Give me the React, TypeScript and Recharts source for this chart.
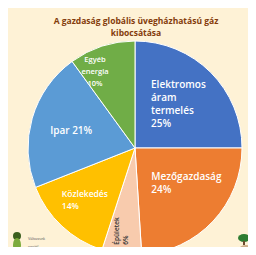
import React from "react";
import { PieChart, Pie, Cell } from "recharts";

const categories = ["Elektromos áram termelés", "Mezőgazdaság", "Épületek", "Közlekedés", "Ipar", "Egyéb energia"];
const values = [25, 24, 6, 14, 21, 10];
const labelLines: string[][] = [
  ["Elektromos", "áram", "termelés", "25%"],
  ["Mezőgazdaság", "24%"],
  ["Épületek", "6%"],
  ["Közlekedés", "14%"],
  ["Ipar 21%"],
  ["Egyéb", "energia", "10%"],
];
const colors = ["#4472C4", "#ED7D31", "#F8CBAD", "#FFC000", "#5B9BD5", "#70AD47"];

const data = categories.map((name, i) => ({ name, value: values[i], lines: labelLines[i] }));

// label layout: radius from centre, angle offset from slice midAngle, anchor, font size, line height
const labelLayout = [
  { r: 62, dA: 30, anchor: "start", fs: 10, lh: 13, rot: false, fill: "#ffffff", weight: 600 },
  { r: 36, dA: -20, anchor: "start", fs: 10, lh: 13, rot: false, fill: "#ffffff", weight: 600 },
  { r: 98, dA: -2.2, anchor: "start", fs: 6.5, lh: 9, rot: true, fill: "#333333", weight: 600 },
  { r: 88, dA: -13, anchor: "start", fs: 8.5, lh: 12, rot: false, fill: "#ffffff", weight: 600 },
  { r: 86, dA: 6.8, anchor: "start", fs: 10, lh: 13, rot: false, fill: "#ffffff", weight: 600 },
  { r: 95, dA: 6.9, anchor: "middle", fs: 7.5, lh: 12, rot: false, fill: "#ffffff", weight: 600 },
];

const RAD = Math.PI / 180;

const renderLabel = (props: any) => {
  const { cx, cy, midAngle, index } = props;
  const L = labelLayout[index];
  const a = (midAngle + L.dA) * RAD;
  const x = cx + L.r * Math.cos(a);
  const y = cy - L.r * Math.sin(a);
  const lines = data[index].lines;
  if (L.rot) {
    return (
      <g transform={`translate(${x},${y}) rotate(-90)`}>
        {lines.map((t, k) => (
          <text key={k} x={0} y={k * L.lh} textAnchor="start" fontSize={L.fs} fontWeight={L.weight} fill={L.fill} fontFamily="Open Sans, sans-serif">
            {t}
          </text>
        ))}
      </g>
    );
  }
  return (
    <g>
      {lines.map((t, k) => (
        <text key={k} x={x} y={y + k * L.lh} textAnchor={L.anchor as any} fontSize={L.fs} fontWeight={L.weight} fill={L.fill} fontFamily="Open Sans, sans-serif">
          {t}
        </text>
      ))}
    </g>
  );
};

export default function App() {
  return (
    <div style={{ position: "relative", width: 256, height: 255, margin: -8, background: "#ffffff", overflow: "hidden" }}>
      <div style={{ position: "absolute", left: 6, top: 6, width: 245, height: 249, background: "#FEF2D6" }} />
      <div
        style={{
          position: "absolute",
          left: 0,
          top: 15,
          width: 272,
          textAlign: "center",
          fontFamily: "Open Sans, sans-serif",
          fontWeight: 700,
          fontSize: 8.5,
          lineHeight: "12px",
          color: "#843C0C",
        }}
      >
        A gazdaság globális üvegházhatású gáz
        <br />
        kibocsátása
      </div>
      <div style={{ position: "absolute", left: 0, top: 0 }}>
        <PieChart width={256} height={255} margin={{ top: 0, right: 0, bottom: 0, left: 0 }}>
          <Pie
            data={data}
            dataKey="value"
            nameKey="name"
            cx={135}
            cy={148}
            outerRadius={107}
            startAngle={90}
            endAngle={-270}
            stroke="#ffffff"
            strokeWidth={1}
            isAnimationActive={false}
            label={renderLabel}
            labelLine={false}
          >
            {data.map((d, i) => (
              <Cell key={d.name} fill={colors[i]} />
            ))}
          </Pie>
        </PieChart>
      </div>
      <svg style={{ position: "absolute", left: 0, top: 0 }} width={256} height={255}>
        <ellipse cx={17} cy={236} rx={4} ry={4} fill="#3b5f1e" />
        <ellipse cx={17} cy={245} rx={4} ry={7} fill="#7cab3c" />
        <text x={28} y={240} fontSize={3.5} fill="#666" fontFamily="Liberation Sans, sans-serif">Változzunk</text>
        <text x={28} y={248} fontSize={3.5} fill="#666" fontFamily="Liberation Sans, sans-serif">együtt!</text>
        <rect x={54} y={247} width={13} height={8} fill="#2B4C9B" />
        <text x={68} y={254} fontSize={6} fill="#2B4C9B" fontFamily="Liberation Sans, sans-serif">Erasmus+</text>
        <ellipse cx={244} cy={238} rx={6} ry={4} fill="#2E7D32" />
        <rect x={243} y={241} width={2} height={4} fill="#6d4c2f" />
        <ellipse cx={246} cy={249} rx={7} ry={4} fill="#cfae8a" />
      </svg>
    </div>
  );
}
